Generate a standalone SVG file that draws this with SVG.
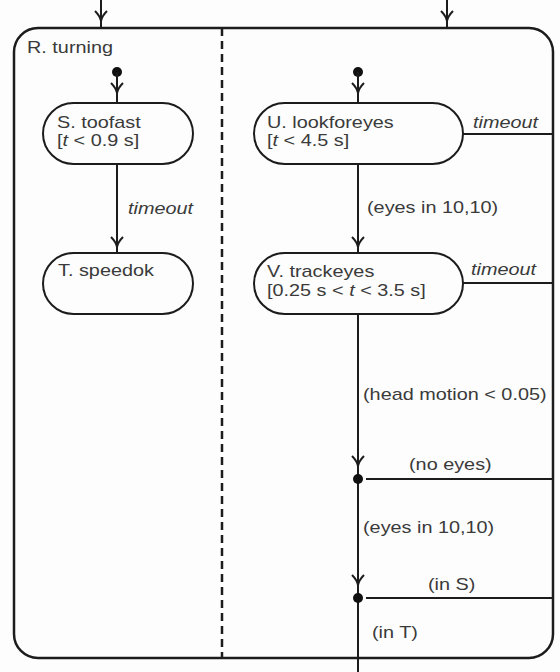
<svg xmlns="http://www.w3.org/2000/svg" width="560" height="672" viewBox="0 0 560 672">
<defs>
<style>
.ln{fill:none;stroke:#1c1c1c;stroke-width:2}
.box{fill:#fcfdfc;stroke:#1c1c1c;stroke-width:2}
.t{font-family:"Liberation Sans",Arial,sans-serif;font-size:16px;fill:#3a3a3a}
.i{font-style:italic}
.dot{fill:#111}
</style>
<path id="ah" d="M-6,-10 Q-1,-5 0,0 Q1,-5 6,-10" fill="none" stroke="#1c1c1c" stroke-width="2"/>
</defs>
<rect width="560" height="672" fill="#fcfdfc"/>
<g id="R">
<rect x="14" y="28" width="539" height="630" rx="24" ry="24" fill="none" stroke="#1c1c1c" stroke-width="2.5"/>
<line x1="222" y1="28" x2="222" y2="658" stroke="#1c1c1c" stroke-width="2.5" stroke-dasharray="8,5"/>
<text class="t" transform="translate(27,53) scale(1.24,1)">R. turning</text>
</g>
<g id="connectors">
<line class="ln" x1="101" y1="0" x2="101" y2="28"/>
<use href="#ah" x="101" y="21"/>
<line class="ln" x1="447" y1="0" x2="447" y2="28"/>
<use href="#ah" x="447" y="21"/>
<circle class="dot" cx="117" cy="72" r="5"/>
<line class="ln" x1="117" y1="72" x2="117" y2="103"/>
<use href="#ah" x="117" y="93"/>
<circle class="dot" cx="358" cy="72" r="5"/>
<line class="ln" x1="358" y1="72" x2="358" y2="103"/>
<use href="#ah" x="358" y="93"/>
<line class="ln" x1="117" y1="164" x2="117" y2="253"/>
<use href="#ah" x="117" y="247"/>
<text class="t i" transform="translate(128,214) scale(1.24,1)">timeout</text>
<line class="ln" x1="358" y1="164" x2="358" y2="253"/>
<use href="#ah" x="358" y="247"/>
<text class="t" transform="translate(367,213) scale(1.24,1)">(eyes in 10,10)</text>
<line class="ln" x1="463" y1="134" x2="553" y2="134"/>
<text class="t i" transform="translate(473,128) scale(1.24,1)">timeout</text>
<line class="ln" x1="463" y1="283" x2="553" y2="283"/>
<text class="t i" transform="translate(471,275) scale(1.24,1)">timeout</text>
<line class="ln" x1="358" y1="314" x2="358" y2="672"/>
<text class="t" transform="translate(363,400) scale(1.24,1)">(head motion &lt; 0.05)</text>
<use href="#ah" x="358" y="466"/>
<circle class="dot" cx="358" cy="479" r="5"/>
<line class="ln" x1="366" y1="479" x2="553" y2="479"/>
<text class="t" transform="translate(409,470) scale(1.24,1)">(no eyes)</text>
<text class="t" transform="translate(363,533) scale(1.24,1)">(eyes in 10,10)</text>
<use href="#ah" x="358" y="585"/>
<circle class="dot" cx="358" cy="598" r="5"/>
<line class="ln" x1="366" y1="598" x2="553" y2="598"/>
<text class="t" transform="translate(428,590) scale(1.24,1)">(in S)</text>
<text class="t" transform="translate(372,638) scale(1.24,1)">(in T)</text>
</g>
<g id="S">
<rect class="box" x="43" y="103" width="150" height="61" rx="30.5"/>
<text class="t" transform="translate(57,128) scale(1.24,1)">S. toofast</text>
<text class="t" transform="translate(57,146) scale(1.24,1)">[<tspan class="i">t</tspan> &lt; 0.9 s]</text>
</g>
<g id="T">
<rect class="box" x="43" y="253" width="150" height="61" rx="30.5"/>
<text class="t" transform="translate(58,276) scale(1.24,1)">T. speedok</text>
</g>
<g id="U">
<rect class="box" x="254" y="103" width="209" height="61" rx="30.5"/>
<text class="t" transform="translate(267,128) scale(1.24,1)">U. lookforeyes</text>
<text class="t" transform="translate(267,146) scale(1.24,1)">[<tspan class="i">t</tspan> &lt; 4.5 s]</text>
</g>
<g id="V">
<rect class="box" x="254" y="253" width="209" height="61" rx="30.5"/>
<text class="t" transform="translate(267,277) scale(1.24,1)">V. trackeyes</text>
<text class="t" transform="translate(267,296) scale(1.24,1)">[0.25 s &lt; <tspan class="i">t</tspan> &lt; 3.5 s]</text>
</g>
</svg>
